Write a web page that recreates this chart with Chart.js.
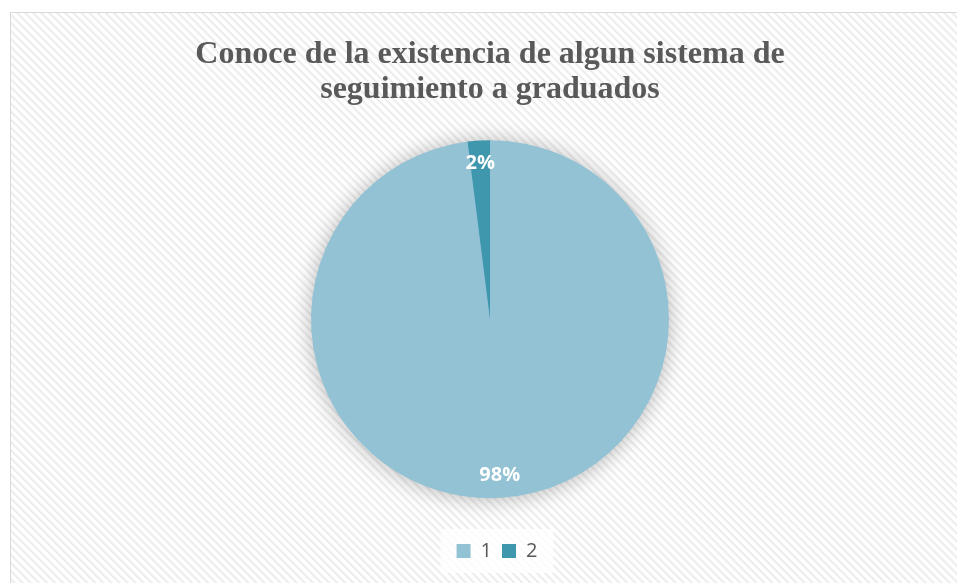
<!DOCTYPE html>
<html>
<head>
<meta charset="utf-8">
<script src="https://cdn.jsdelivr.net/npm/chart.js@4.4.0/dist/chart.umd.min.js"></script>
<style>
  html, body { margin: 0; padding: 0; background: #fff; }
  body { width: 957px; height: 583px; position: relative; overflow: hidden; }
  #frame {
    position: absolute; left: 10px; top: 12px; width: 960px; height: 580px;
    border: 1px solid #d9d9d9;
    background: repeating-linear-gradient(45deg, #ffffff 0px, #ffffff 2.5px, #ededed 3.5px, #ededed 4.5px, #ffffff 5.7px);
  }
  #wrap { position: absolute; left: 0; top: 0; width: 957px; height: 583px; }
</style>
</head>
<body>
<div id="frame"></div>
<div id="wrap"><canvas id="chart"></canvas></div>
<script>
const titleLines = ['Conoce de la existencia de algun sistema de', 'seguimiento a graduados'];
const labels = ['1', '2'];
const values = [98, 2];
const colors = ['#93c2d4', '#3f97ae'];
const legendShift = 7;

// soft shadow under the whole pie, drawn once so slices don't shade each other
const pieShadow = {
  id: 'pieShadow',
  beforeDatasetsDraw(chart){
    const arc = chart.getDatasetMeta(0).data[0];
    if(!arc) return;
    const ctx = chart.ctx;
    ctx.save();
    ctx.shadowColor = 'rgba(0,0,0,0.3)';
    ctx.shadowBlur = 22;
    ctx.shadowOffsetY = 1;
    ctx.beginPath();
    ctx.arc(arc.x, arc.y, arc.outerRadius - 1, 0, Math.PI * 2);
    ctx.fillStyle = colors[0];
    ctx.fill();
    ctx.restore();
  }
};

// percent labels near the outer edge of each slice
const pieLabels = {
  id: 'pieLabels',
  afterDatasetsDraw(chart){
    const ctx = chart.ctx;
    const total = values.reduce((a,b) => a + b, 0);
    ctx.save();
    ctx.font = 'bold 20px "Open Sans", sans-serif';
    ctx.fillStyle = '#ffffff';
    ctx.textAlign = 'center';
    ctx.textBaseline = 'middle';
    chart.getDatasetMeta(0).data.forEach((arc, i) => {
      const mid = (arc.startAngle + arc.endAngle) / 2;
      const r = arc.outerRadius - 23;
      const x = arc.x + Math.cos(mid) * r;
      const y = arc.y + Math.sin(mid) * r;
      ctx.fillText(Math.round(values[i] / total * 100) + '%', x, y);
    });
    ctx.restore();
  }
};

// light panel behind the legend, and nudge the legend a bit to the right
const legendPanel = {
  id: 'legendPanel',
  afterInit(chart){
    const lg = chart.legend;
    if(!lg) return;
    const orig = lg.draw.bind(lg);
    lg.draw = function(area){
      const ctx = chart.ctx;
      const boxes = lg.legendHitBoxes || [];
      ctx.save();
      ctx.translate(legendShift, 0);
      if(boxes.length){
        let l = Infinity, r = -Infinity, t = Infinity, b = -Infinity;
        boxes.forEach(h => { l = Math.min(l, h.left); r = Math.max(r, h.left + h.width); t = Math.min(t, h.top); b = Math.max(b, h.top + h.height); });
        ctx.fillStyle = 'rgba(255,255,255,0.75)';
        ctx.fillRect(l - 16, t - 12, (r - l) + 32, (b - t) + 24);
      }
      orig(area);
      ctx.restore();
    };
  }
};

new Chart(document.getElementById('chart'), {
  type: 'pie',
  data: {
    labels: labels,
    datasets: [{ data: values, backgroundColor: colors, borderWidth: 0, radius: 179 }]
  },
  options: {
    responsive: true,
    maintainAspectRatio: false,
    animation: false,
    layout: { padding: { left: 23, right: 0, top: 0, bottom: 12 } },
    plugins: {
      title: {
        display: true,
        text: titleLines,
        color: '#595959',
        font: { family: '"Liberation Serif", "Times New Roman", serif', size: 32, weight: 'bold', lineHeight: 1.1 },
        padding: { top: 37, bottom: 0 }
      },
      legend: {
        display: true,
        position: 'bottom',
        labels: {
          color: '#595959',
          font: { family: '"Open Sans", sans-serif', size: 20 },
          boxWidth: 14,
          boxHeight: 14,
          padding: 10
        }
      },
      tooltip: { enabled: false }
    }
  },
  plugins: [legendPanel, pieShadow, pieLabels]
});
</script>
</body>
</html>
